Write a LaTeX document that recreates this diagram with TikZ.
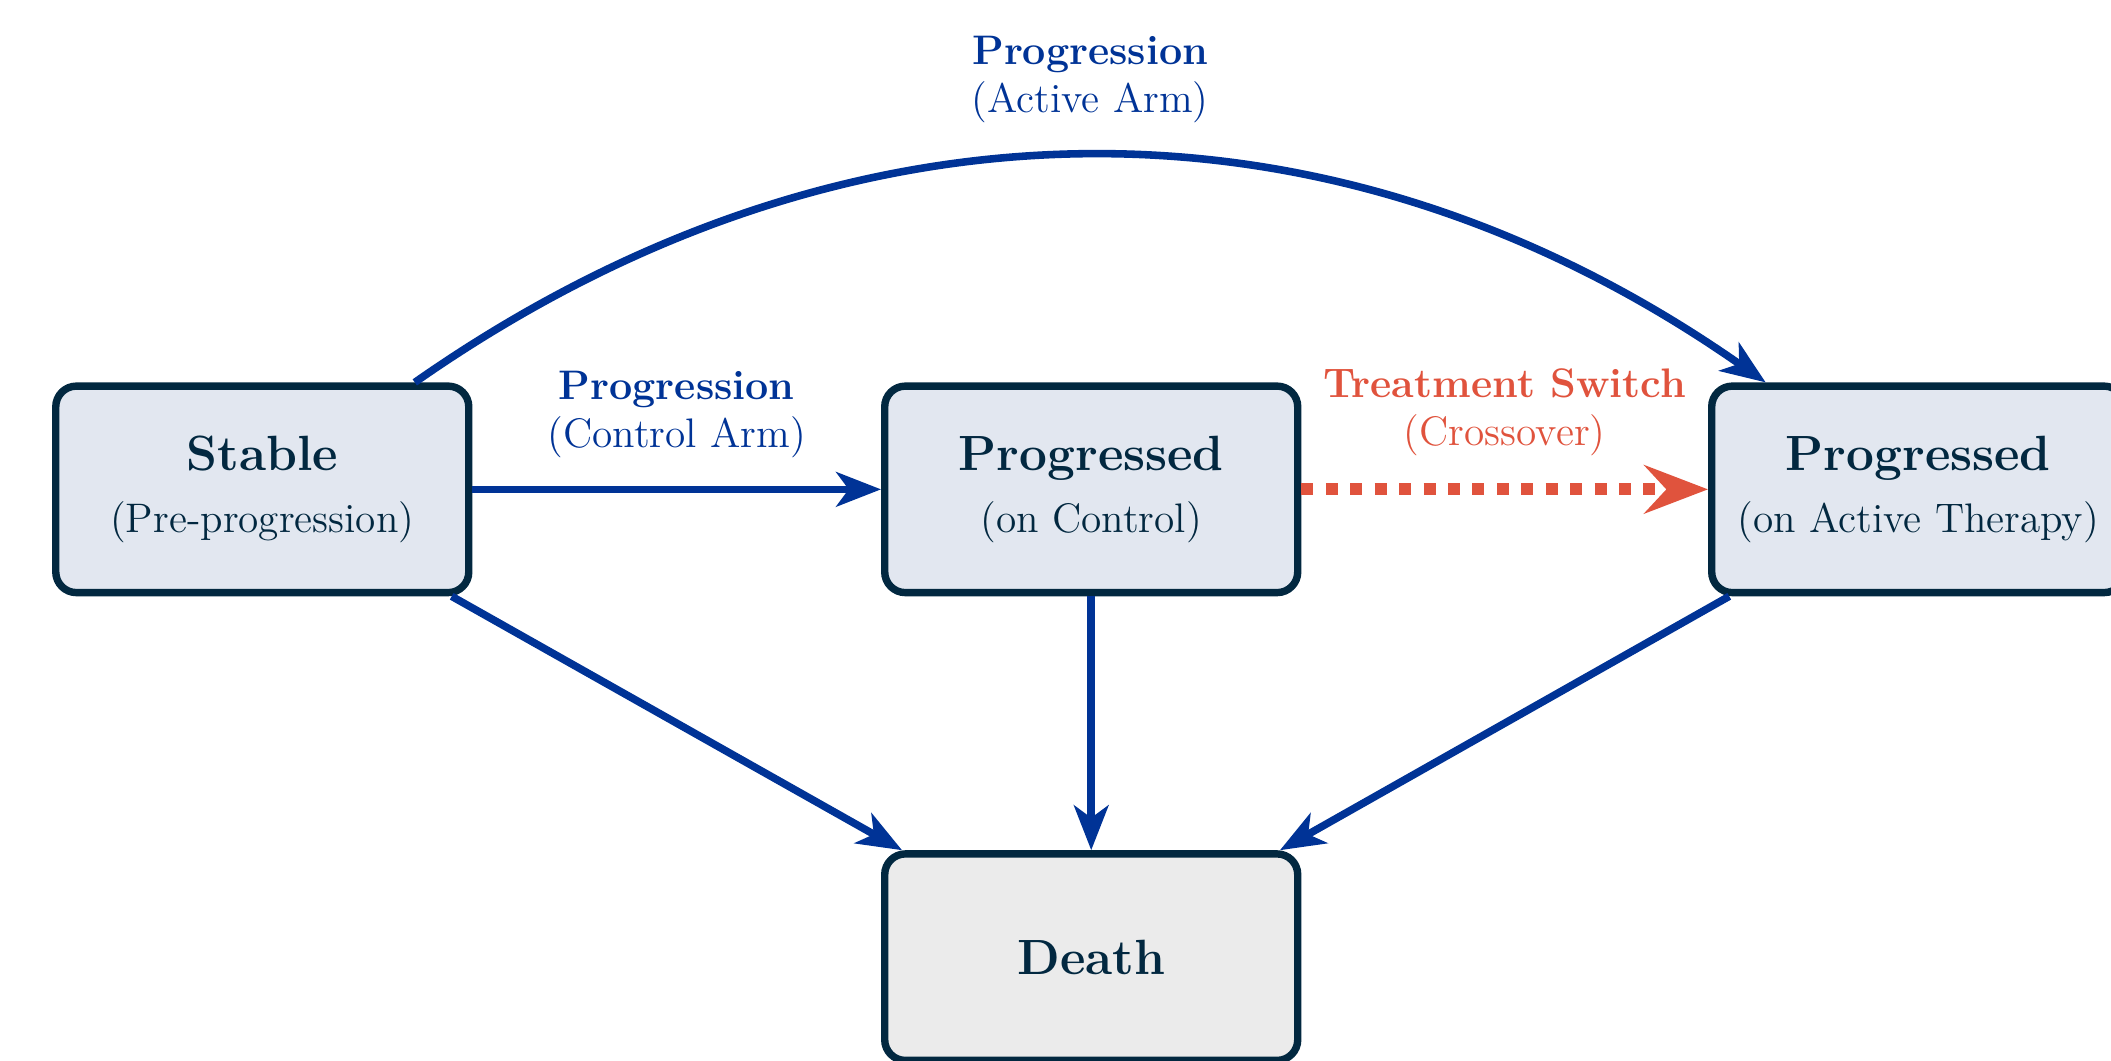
\documentclass[tikz,border=0pt]{standalone}
\usepackage{tikz}
\usetikzlibrary{positioning, arrows.meta}

\definecolor{navyline}{RGB}{2,40,64}
\definecolor{stateblue}{RGB}{0,51,150}
\definecolor{switchred}{RGB}{224,83,61}
\definecolor{statefill}{RGB}{226,231,240}
\definecolor{deathfill}{RGB}{235,235,235}

\begin{document}
\begin{tikzpicture}[
    state/.style={draw=navyline, line width=2.15pt, rounded corners=6pt,
      fill=statefill, text=navyline, align=center,
      minimum width=4.22cm, minimum height=2.11cm},
    absorb/.style={state, fill=deathfill},
    trans/.style={draw=stateblue, line width=2.2pt,
      -{Stealth[length=13pt, width=10pt, inset=3.6pt]}},
    switch/.style={draw=switchred, line width=3.5pt,
      dash pattern=on 3.5pt off 3.6pt,
      -{Stealth[length=18.5pt, width=14pt, inset=6.4pt]}},
    lab/.style={align=center, font=\large, inner sep=2pt}
  ]

    % --- 画布范围 ---
    \useasboundingbox (-2.68, -5.84) rectangle (18.89, 5.0);

    % --- 状态节点 ---
    \node[state] (stable) at (0, 0)
      {{\Large\bfseries Stable}\\[6pt]{\large (Pre-progression)}};
    \node[state] (progctrl) at (8.47, 0)
      {{\Large\bfseries Progressed}\\[6pt]{\large (on Control)}};
    \node[state] (progact) at (16.92, 0)
      {{\Large\bfseries Progressed}\\[6pt]{\large (on Active Therapy)}};
    \node[absorb] (death) at (8.47, -4.78) {\Large\bfseries Death};

    % --- 转移 ---
    \draw[trans] (stable) -- (progctrl)
      node[lab, midway, above=6pt, text=stateblue]
      {\textbf{Progression}\\(Control Arm)};
    \draw[switch] (progctrl) -- (progact)
      node[lab, midway, above=6pt, text=switchred]
      {\textbf{Treatment Switch}\\(Crossover)};
    \draw[trans] (stable) to[bend left=35]
      node[lab, midway, above=6.5pt, text=stateblue]
      {\textbf{Progression}\\(Active Arm)} (progact);

    % --- 死亡 ---
    \draw[trans] (stable) -- (death);
    \draw[trans] (progctrl) -- (death);
    \draw[trans] (progact) -- (death);

\end{tikzpicture}
\end{document}
